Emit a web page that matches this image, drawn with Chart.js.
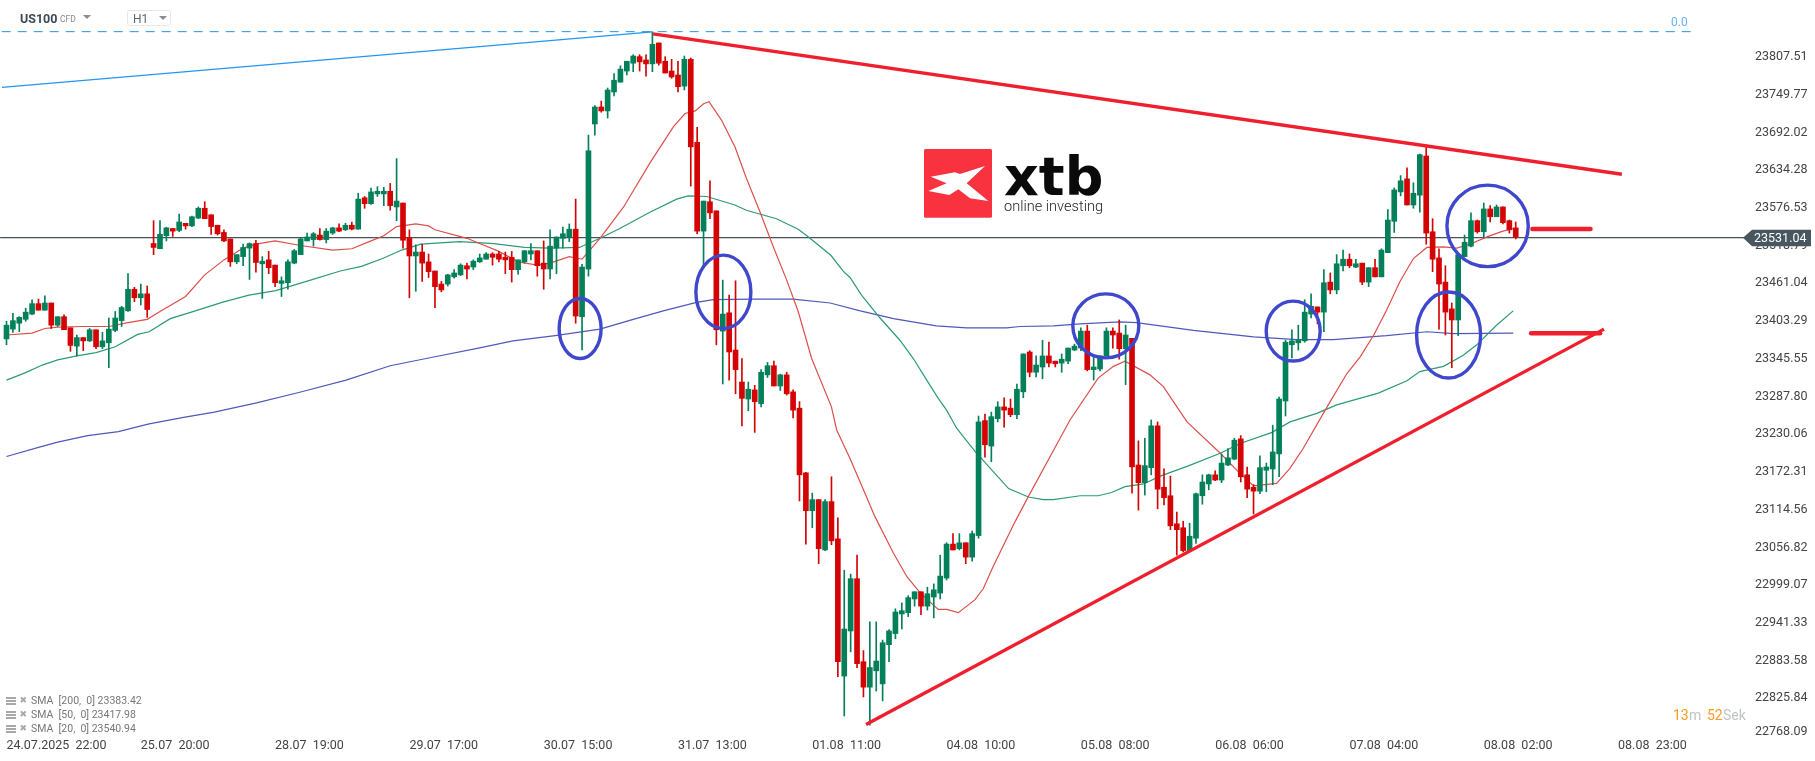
<!DOCTYPE html>
<html><head><meta charset="utf-8"><title>US100 H1</title>
<style>html,body{margin:0;padding:0;background:#fff;overflow:hidden}canvas{display:block}</style>
<script src="https://cdn.jsdelivr.net/npm/chart.js@4"></script></head>
<body><canvas id="c" width="1815" height="761"></canvas>
<script>
const opens=[23376,23391,23400,23406,23414,23430,23420,23431,23397,23410,
23393,23365,23378,23373,23390,23364,23370,23389,23404,23419,
23452,23439,23445,23522,23514,23534,23545,23542,23553,23549,
23561,23576,23566,23550,23539,23529,23494,23502,23515,23522,
23491,23497,23489,23461,23462,23492,23505,23526,23528,23535,
23528,23538,23546,23543,23550,23544,23592,23583,23598,23598,
23602,23578,23584,23531,23503,23509,23494,23480,23460,23460,
23471,23474,23488,23486,23494,23498,23506,23506,23501,23501,
23482,23494,23506,23511,23492,23483,23515,23530,23532,23544,
23410,23483,23705,23731,23725,23754,23769,23786,23798,23808,
23803,23797,23829,23801,23786,23780,23763,23804,23677,23541,
23586,23572,23388,23416,23359,23310,23284,23298,23277,23321,
23335,23304,23321,23295,23270,23171,23113,23130,23053,23127,
23070,22860,22929,23009,22882,22843,22868,22848,22908,22925,
22955,22957,22978,22989,22967,22981,22987,23010,23062,23055,
23064,23042,23075,23251,23212,23254,23272,23270,23260,23295,
23356,23325,23333,23350,23342,23339,23342,23359,23362,23388,
23329,23330,23350,23388,23385,23361,23377,23183,23156,23179,
23243,23149,23136,23093,23087,23052,23071,23136,23154,23168,
23160,23183,23192,23223,23168,23149,23143,23175,23177,23200,
23281,23367,23370,23373,23414,23425,23417,23463,23451,23488,
23498,23486,23492,23463,23485,23471,23508,23556,23601,23621,
23581,23596,23656,23540,23500,23463,23422,23405,23502,23518,
23557,23540,23575,23563,23578,23557,23546];
const highs=[23403,23415,23410,23423,23436,23437,23442,23431,23410,23413,
23393,23382,23378,23392,23390,23386,23408,23418,23426,23476,
23455,23460,23457,23557,23557,23547,23545,23567,23553,23564,
23578,23586,23566,23550,23543,23529,23505,23521,23523,23527,
23502,23510,23489,23471,23497,23513,23531,23538,23539,23545,
23545,23547,23552,23553,23555,23599,23594,23607,23609,23608,
23614,23652,23584,23543,23520,23521,23506,23480,23464,23475,
23482,23491,23492,23497,23506,23508,23508,23510,23509,23510,
23497,23511,23522,23511,23526,23543,23532,23547,23552,23590,
23490,23688,23733,23740,23760,23782,23794,23801,23811,23811,
23811,23846,23829,23808,23804,23801,23809,23806,23700,23587,
23618,23572,23466,23443,23465,23346,23310,23305,23329,23340,
23342,23322,23325,23298,23280,23172,23140,23130,23130,23165,
23102,23022,23016,23045,22899,22943,22943,22915,22931,22963,
22972,22983,22989,22989,22996,23001,23045,23064,23078,23078,
23064,23082,23258,23261,23264,23280,23286,23284,23307,23353,
23358,23350,23374,23371,23342,23353,23362,23368,23393,23397,
23350,23350,23393,23393,23405,23397,23377,23220,23224,23252,
23249,23177,23166,23111,23097,23094,23140,23168,23169,23174,
23200,23208,23224,23228,23180,23153,23197,23186,23244,23287,
23374,23390,23397,23436,23445,23425,23482,23477,23505,23512,
23506,23498,23492,23485,23498,23514,23574,23607,23626,23638,
23615,23659,23673,23560,23514,23488,23431,23505,23535,23569,
23558,23584,23580,23581,23578,23558,23555];
const lows=[23367,23386,23387,23403,23413,23420,23420,23392,23395,23390,
23357,23350,23358,23372,23361,23361,23332,23387,23395,23418,
23433,23428,23409,23505,23514,23526,23533,23540,23544,23548,
23560,23560,23536,23535,23525,23487,23491,23488,23467,23478,
23438,23476,23456,23441,23452,23491,23505,23526,23518,23527,
23523,23536,23540,23542,23543,23544,23576,23582,23594,23580,
23573,23557,23515,23439,23449,23464,23470,23424,23448,23457,
23469,23473,23468,23482,23493,23498,23489,23494,23476,23463,
23475,23492,23497,23472,23452,23468,23476,23515,23525,23400,
23359,23472,23688,23723,23714,23748,23769,23780,23785,23786,
23778,23785,23795,23783,23775,23754,23757,23610,23537,23487,
23560,23367,23307,23313,23292,23243,23266,23233,23272,23317,
23304,23297,23290,23255,23128,23062,23087,23032,23052,23061,
22859,22799,22897,22873,22828,22785,22837,22822,22882,22917,
22932,22951,22967,22954,22961,22949,22978,23007,23053,23053,
23032,23036,23071,23195,23188,23249,23241,23257,23254,23286,
23318,23318,23315,23333,23333,23325,23338,23358,23358,23327,
23313,23327,23350,23362,23345,23306,23140,23114,23137,23168,
23116,23122,23084,23045,23050,23050,23063,23123,23145,23159,
23156,23182,23191,23157,23133,23108,23139,23142,23153,23165,
23258,23347,23359,23371,23408,23399,23387,23445,23445,23480,
23485,23485,23459,23456,23471,23471,23508,23539,23595,23581,
23576,23570,23521,23479,23391,23382,23332,23381,23502,23517,
23538,23531,23555,23563,23552,23538,23529];
const closes=[23397,23404,23409,23417,23430,23420,23431,23397,23410,23390,
23366,23378,23373,23390,23364,23373,23391,23408,23424,23452,
23439,23445,23421,23516,23536,23546,23541,23555,23549,23563,
23576,23560,23548,23537,23526,23494,23505,23516,23522,23493,
23495,23485,23462,23465,23494,23511,23529,23532,23537,23528,
23541,23546,23541,23550,23544,23590,23583,23601,23602,23602,
23580,23587,23527,23503,23509,23492,23479,23456,23451,23474,
23477,23489,23483,23495,23500,23506,23501,23498,23497,23482,
23497,23511,23511,23488,23483,23518,23532,23537,23544,23411,
23486,23664,23731,23725,23757,23772,23789,23801,23809,23800,
23797,23827,23798,23783,23777,23762,23804,23670,23541,23587,
23569,23390,23414,23356,23329,23285,23299,23280,23325,23335,
23304,23321,23292,23267,23168,23113,23130,23055,23127,23067,
22882,22932,23009,22879,22843,22873,22883,22911,22929,22958,
22960,22980,22989,22967,22986,22992,23013,23062,23053,23064,
23042,23078,23249,23214,23257,23272,23267,23260,23299,23353,
23325,23336,23350,23339,23338,23345,23362,23365,23388,23329,
23333,23350,23388,23382,23361,23382,23180,23156,23182,23243,
23146,23133,23090,23084,23052,23074,23139,23157,23168,23160,
23186,23194,23221,23165,23146,23143,23179,23180,23203,23284,
23371,23373,23374,23417,23426,23417,23462,23451,23491,23498,
23488,23491,23463,23485,23471,23512,23558,23604,23618,23581,
23599,23658,23538,23498,23460,23417,23405,23505,23524,23557,
23540,23575,23563,23578,23554,23543,23532];

const sma20X=[0,4,6,8,12,16,19,22,24,28,31,34,37,39,42,46,51,54,57,59,61,64,66,67,72,74,77,80,83,85,88,90,92.8,96.5,100.6,104.3,106.1,107.7,109,109.85,111.8,113.9,115.7,117.8,119.9,122,123.8,125.9,129,129.8,131.9,134,135.8,138.7,140.8,142.9,145.7,147,148.85,151.45,152.75,154.3,157.7,159.8,163.2,166.3,170.7,173.1,174.9,178.8,180.9,184.6,189.8,192.6,195,198.6,200.7,202.8,206.5,209.6,211.7,213.8,215.8,217.9,220,222.1,224.7,226.8,229.1,231.7,234,235.7];
const sma20Y=[23382,23385,23392,23394,23395,23395,23401,23406,23418,23441,23474,23497,23515,23521,23526,23519,23512,23514,23526,23534,23548,23552,23549,23543,23530,23522,23510,23494,23489,23492,23502,23498,23530,23578,23645,23701,23721,23725,23736,23739,23711,23670,23622,23571,23517,23466,23418,23346,23272,23237,23193,23145,23104,23048,23012,22987,22962,22962,22957,22977,22994,23028,23096,23135,23196,23252,23316,23334,23342,23321,23303,23249,23201,23173,23151,23155,23178,23209,23272,23323,23349,23382,23420,23464,23499,23516,23517,23515,23522,23533,23541,23545];
const sma50X=[0,2.9,5.6,8,11,14,17,20.5,22.3,25.6,28.9,33.7,37.9,42.1,46.9,52.2,55.5,58.8,61.8,64.8,70.8,76.2,81,85.2,89.6,92.8,95.9,100.6,104.8,106.6,109.5,113.9,115.7,120.4,123.8,125.4,128.9,130.9,131.9,133.7,136.6,139.7,141.8,143.9,145.7,147,148.6,151.45,154.3,156.7,159.8,162.1,163.7,167.9,170.7,172.8,174.9,177.8,180.4,184.6,189.8,192.9,197.9,200.7,204.9,208,214.5,219,221,224.7,227.8,229.9,233,235.6];
const sma50Y=[23313,23324,23336,23344,23350,23355,23364,23383,23387,23407,23417,23432,23443,23450,23464,23480,23487,23499,23512,23521,23525,23522,23516,23515,23516,23530,23545,23570,23590,23595,23594,23581,23573,23560,23544,23532,23504,23479,23470,23443,23408,23374,23346,23313,23285,23267,23239,23204,23173,23147,23134,23130,23130,23136,23136,23141,23150,23154,23166,23181,23201,23216,23233,23249,23262,23275,23293,23312,23326,23334,23351,23367,23397,23419];
const sma200X=[0,5,8,12.7,17.5,22.3,27.7,32.5,39.1,45.7,53.1,60,66.6,73.8,79.2,85.8,92.8,98,102.7,107.9,110.5,116.8,123,128.8,133.5,138.7,145.4,150.1,156.4,158.5,163.7,167.9,174.1,176.7,185.6,195,201.8,207.5,215.8,222.1,226.3,235.6];
const sma200Y=[23196,23210,23218,23228,23234,23246,23256,23264,23278,23294,23313,23335,23348,23362,23373,23381,23391,23406,23419,23432,23436,23437,23437,23431,23419,23407,23396,23393,23393,23395,23396,23399,23402,23401,23389,23379,23375,23375,23381,23387,23384,23385];

const tickIndex=[0,21,42,63,84,105,126,147,168,189,210,231,252];
const tickLabels=["24.07.2025  22:00","25.07  20:00","28.07  19:00","29.07  17:00","30.07  15:00","31.07  13:00","01.08  11:00","04.08  10:00","05.08  08:00","06.08  06:00","07.08  04:00","08.08  02:00","08.08  23:00"];
const priceTicks=[23807.51,23749.77,23692.02,23634.28,23576.53,23518.79,23461.04,23403.29,23345.55,23287.80,23230.06,23172.31,23114.56,23056.82,22999.07,22941.33,22883.58,22825.84,22768.09];
const lastPrice=23531.04;
const fibPrice=23846.3;
const fibX=[-0.75,263.4];
const swingX=[-0.7,101], swingY=[23761,23846];
const upperX=[101.1,252.6], upperY=[23843,23628];
const lowerX=[134.4,249.8], lowerY=[22786,23391];
const markAX=[238.6,247.7], markAY=[23544.3,23544.3];
const markBX=[238.4,249.2], markBY=[23384.7,23384.7];
const circleX=[89.7,112.1,171.9,201.2,231.6,225.5];
const circleY=[23392,23448,23396,23388,23549,23382];
const circleRX=[3.28,4.3,5.16,4.22,6.36,5];
const circleRY=[45.9,56.2,49,45.9,62.4,65.8];
const legendRows=["SMA  [200,  0] 23383.42","SMA  [50,  0] 23417.98","SMA  [20,  0] 23540.94"];

const UP="#03805a",DOWN="#d40404";
const colors=closes.map((c,i)=>c>=opens[i]?UP:DOWN);
const pts=(xs,ys)=>xs.map((x,i)=>({x,y:ys[i]}));
const line=(label,xs,ys,color,width,order,extra)=>Object.assign({type:"line",label,data:pts(xs,ys),borderColor:color,borderWidth:width,pointRadius:0,tension:0,order,fill:false},extra||{});

const overlay={id:"overlay",
 afterDatasetsDraw(ch){
  const c=ch.ctx,xs=ch.scales.x,ys=ch.scales.y;
  c.save();c.strokeStyle="#3f48cc";c.lineWidth=3.4;
  circleX.forEach((v,i)=>{
    const px=xs.getPixelForValue(v),py=ys.getPixelForValue(circleY[i]);
    const rx=Math.abs(xs.getPixelForValue(v+circleRX[i])-px),ry=Math.abs(ys.getPixelForValue(circleY[i]+circleRY[i])-py);
    c.beginPath();c.ellipse(px,py,rx,ry,0,0,Math.PI*2);c.stroke();
  });
  c.restore();
 },
 afterDraw(ch){
  const c=ch.ctx,ys=ch.scales.y;
  c.save();
  c.textBaseline="middle";
  const txt=(s,x,y,font,col,max)=>{c.font=font;c.fillStyle=col;c.textAlign="left";max?c.fillText(s,x,y,max):c.fillText(s,x,y);};
  const tri=(x1,x2,y1,y2,col)=>{c.fillStyle=col;c.beginPath();c.moveTo(x1,y1);c.lineTo(x2,y1);c.lineTo((x1+x2)/2,y2);c.closePath();c.fill();};
  // header
  txt("US100",20,19.5,"bold 12.5px Roboto","#3c4a54");
  txt("CFD",60,20,"8.5px Roboto","#8a8a8a");
  tri(83,91,15,19,"#8c8c8c");
  c.strokeStyle="#e4e6e8";c.lineWidth=1;c.beginPath();c.roundRect(127.5,10.5,43,15,2);c.stroke();
  txt("H1",133,20,"12px Roboto","#5a6a72");
  tri(159,167,16,20,"#8c8c8c");
  // fib label
  txt("0.0",1671,22.5,"12px Roboto","#64b5f6");
  // logo
  c.fillStyle="#f9323f";c.beginPath();c.roundRect(924,149,68,68.7,1.5);c.fill();
  const lp=[[92,140],[165,127],[180,132],[255,108],[200,160],[265,213],[210,205],[175,178],[148,195],[85,183],[140,160]];
  c.fillStyle="#fff";c.beginPath();lp.forEach((p,i)=>{const X=900+p[0]/3,Y=130+p[1]/3;i?c.lineTo(X,Y):c.moveTo(X,Y);});c.closePath();c.fill();
  c.textBaseline="alphabetic";
  c.font="bold 54px 'DejaVu Sans'";c.fillStyle="#0a0a0a";c.textAlign="left";c.fillText("xtb",1004,195,100);
  c.font="300 15px Roboto";c.fillStyle="#222";c.fillText("online investing",1004,211,99);
  c.textBaseline="middle";
  // legend
  legendRows.forEach((s,i)=>{
    const y=701+i*14;
    c.fillStyle="#a8a8a8";
    [-4,-1,2].forEach(d=>c.fillRect(6,y+d,10,2));
    txt("\u2716",19.5,y,"9px 'DejaVu Sans'","#a8a8a8");
    txt(s,31,y+.5,"10.5px Roboto","#777");
  });
  // lowest price label sits inside the canvas margin
  txt("22768.09",1755,732,"12.5px Roboto","#444");
  // countdown
  txt("13",1673,716.5,"14px Roboto","#ff9a1f");
  txt("m",1689,716.5,"14px Roboto","#c0c4c8");
  txt("52",1707,716.5,"14px Roboto","#ff9a1f");
  txt("Sek",1723,716.5,"14px Roboto","#c0c4c8");
  // current price tag
  const y=ys.getPixelForValue(lastPrice);
  c.fillStyle="#47565f";c.beginPath();c.moveTo(1743,y);c.lineTo(1752,y-8);c.lineTo(1811,y-8);c.lineTo(1811,y+8.5);c.lineTo(1752,y+8.5);c.closePath();c.fill();
  txt(lastPrice.toFixed(2),1754,y+1,"12.5px Roboto","#fff");
  c.restore();
 }};

new Chart(document.getElementById("c"),{
 type:"bar",
 data:{datasets:[
  {type:"bar",label:"Body",data:opens.map((o,i)=>({x:i,y:[o,closes[i]]})),backgroundColor:colors,barThickness:5,grouped:false,order:1},
  {type:"bar",label:"Wick",data:highs.map((h,i)=>({x:i,y:[lows[i],h]})),backgroundColor:colors,barThickness:1,grouped:false,order:2},
  line("SMA 20",sma20X,sma20Y,"#dd4f4b",1.2,4),
  line("SMA 50",sma50X,sma50Y,"#2d9a77",1.2,4),
  line("SMA 200",sma200X,sma200Y,"#4e59bb",1.2,4),
  line("Last",[-1,273],[lastPrice,lastPrice],"#47525a",1.2,5),
  line("Fib 0.0",fibX,[fibPrice,fibPrice],"#2196f3",1,0,{borderDash:[9,7]}),
  line("Swing",swingX,swingY,"#2196f3",1.2,0),
  line("Upper trend",upperX,upperY,"#f01f2d",3.4,0),
  line("Lower trend",lowerX,lowerY,"#f01f2d",3.4,0),
  line("Mark A",markAX,markAY,"#f01f2d",4.4,0,{borderCapStyle:"round"}),
  line("Mark B",markBX,markBY,"#f01f2d",4.4,0,{borderCapStyle:"round"})
 ]},
 options:{
  responsive:false,animation:false,devicePixelRatio:1,
  layout:{padding:0},
  plugins:{legend:{display:false},tooltip:{enabled:false},title:{display:false}},
  scales:{
   x:{type:"linear",offset:false,min:-1.016,max:271.85,
      grid:{display:false,drawTicks:false},border:{display:false},
      afterBuildTicks(s){s.ticks=tickIndex.map(v=>({value:v}));},
      afterFit(s){s.height=24.9;s.paddingLeft=0;s.paddingRight=0;s.paddingTop=0;s.paddingBottom=0;},
      ticks:{autoSkip:false,maxRotation:0,minRotation:0,align:"start",padding:2,color:"#444",
        font:{family:"Roboto",size:12.5},
        callback(v){const k=tickIndex.indexOf(v);return k<0?"":tickLabels[k];}}},
   y:{position:"right",min:22768.09,max:23894.75,
      grid:{display:false,drawTicks:false},border:{display:false},
      afterBuildTicks(s){s.ticks=priceTicks.map(v=>({value:v}));},
      afterFit(s){s.width=70;s.paddingTop=0;s.paddingBottom=0;s.paddingLeft=0;s.paddingRight=0;},
      ticks:{autoSkip:false,padding:10,color:"#444",font:{family:"Roboto",size:12.5},
        callback(v){return v===22768.09?"":v.toFixed(2);}}}
  }
 },
 plugins:[overlay]
});
</script></body></html>
